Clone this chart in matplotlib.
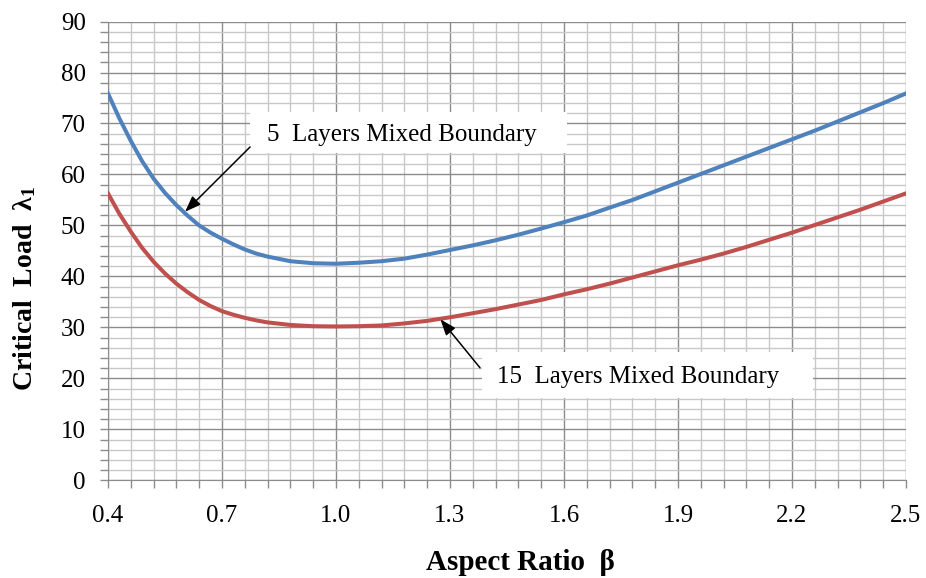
import numpy as np
import matplotlib
matplotlib.use("Agg")
import matplotlib.pyplot as plt
from matplotlib.patches import Rectangle
from matplotlib.ticker import FixedLocator, MultipleLocator

plt.rcParams["font.family"] = ["Liberation Serif", "DejaVu Serif"]
plt.rcParams["mathtext.fontset"] = "custom"
plt.rcParams["mathtext.rm"] = "Liberation Serif"
plt.rcParams["mathtext.it"] = "Liberation Serif:italic"
plt.rcParams["mathtext.bf"] = "Liberation Serif:bold"

# aspect ratio beta, read at the grid lines (half steps on the steep part)
beta = [0.40, 0.43, 0.46, 0.49, 0.52, 0.55, 0.58, 0.61, 0.64, 0.67,
        0.70, 0.73, 0.76, 0.79, 0.82, 0.88, 0.94,
        1.00, 1.06, 1.12, 1.18, 1.24, 1.30, 1.36, 1.42, 1.48, 1.54,
        1.60, 1.66, 1.72, 1.78, 1.84, 1.90, 1.96, 2.02, 2.08, 2.14,
        2.20, 2.26, 2.32, 2.38, 2.44, 2.50]

# critical load, 5 layers mixed boundary
load_5 = [75.9, 71.0, 66.6, 62.6, 59.2, 56.4, 54.0, 51.9, 50.0, 48.6,
          47.4, 46.3, 45.3, 44.5, 43.9, 43.0, 42.6,
          42.5, 42.7, 43.0, 43.5, 44.3, 45.2, 46.1, 47.1, 48.2, 49.4,
          50.65, 51.96, 53.5, 55.0, 56.7, 58.4, 60.1, 61.8, 63.5, 65.2,
          66.9, 68.6, 70.4, 72.2, 74.0, 75.9]

# critical load, 15 layers mixed boundary
load_15 = [56.3, 52.3, 48.8, 45.6, 42.9, 40.6, 38.6, 36.9, 35.4, 34.2,
           33.2, 32.5, 31.9, 31.4, 31.0, 30.5, 30.25,
           30.2, 30.25, 30.4, 30.8, 31.3, 32.0, 32.8, 33.6, 34.5, 35.4,
           36.5, 37.5, 38.6, 39.8, 41.0, 42.2, 43.3, 44.5, 45.8, 47.2,
           48.6, 50.1, 51.6, 53.1, 54.7, 56.3]

x_ticks = [0.4, 0.7, 1.0, 1.3, 1.6, 1.9, 2.2, 2.5]
y_ticks = [0, 10, 20, 30, 40, 50, 60, 70, 80, 90]

fig = plt.figure(figsize=(9.26, 5.78), dpi=100)
ax = fig.add_axes([0.1166, 0.1687, 0.8618, 0.7941])

ax.plot(beta, load_5, color="#4F81BD", lw=2.9, zorder=3,
        solid_joinstyle="round")
ax.plot(beta, load_15, color="#C0504D", lw=2.9, zorder=3,
        solid_joinstyle="round")

ax.set_xlim(0.4, 2.5)
ax.set_ylim(0, 90)
ax.xaxis.set_major_locator(FixedLocator(x_ticks))
ax.xaxis.set_minor_locator(FixedLocator(np.linspace(0.4, 2.5, 36)))
ax.yaxis.set_major_locator(FixedLocator(y_ticks))
ax.yaxis.set_minor_locator(MultipleLocator(2))
ax.set_xticklabels([f"{v:.1f}" for v in x_ticks])
ax.set_yticklabels([str(v) for v in y_ticks])

ax.grid(which="major", color="#8c8c8c", lw=1.0, zorder=0)
ax.grid(which="minor", color="#c8c8c8", lw=1.0, zorder=0)
ax.set_axisbelow(True)
ax.tick_params(which="both", direction="out", length=6, width=1,
               color="#8c8c8c", labelsize=18)
ax.tick_params(axis="x", which="both", pad=12)
ax.tick_params(axis="y", which="both", pad=10)
for side in ["top", "right"]:
    ax.spines[side].set_visible(False)
for side in ["left", "bottom"]:
    ax.spines[side].set_color("#8c8c8c")

# label boxes
ax.add_patch(Rectangle((0.774, 64.2), 0.834, 8.05, facecolor="white",
                       edgecolor="none", zorder=2))
ax.add_patch(Rectangle((1.383, 16.2), 0.872, 8.9, facecolor="white",
                       edgecolor="none", zorder=2))
ax.text(0.818, 66.6, "5  Layers Mixed Boundary", fontsize=18,
        va="baseline", ha="left", zorder=4)
ax.text(1.424, 19.2, "15  Layers Mixed Boundary", fontsize=18,
        va="baseline", ha="left", zorder=4)

arrow = dict(arrowstyle="-|>,head_length=0.8,head_width=0.3",
             color="black", lw=1.1, mutation_scale=12, shrinkA=0, shrinkB=0)
ax.annotate("", xy=(0.603, 52.7), xytext=(0.774, 65.4), arrowprops=arrow,
            zorder=4)
ax.annotate("", xy=(1.275, 31.6), xytext=(1.379, 22.1), arrowprops=arrow,
            zorder=4)

fig.text(0.027, 0.50, r"Critical  Load  $\mathbf{\lambda_1}$", rotation=90,
         fontsize=20, fontweight="bold", ha="center", va="center")
fig.text(0.562, 0.026, "Aspect Ratio  β", fontsize=21, fontweight="bold",
         ha="center", va="center")

fig.savefig("out.png", dpi=100)
